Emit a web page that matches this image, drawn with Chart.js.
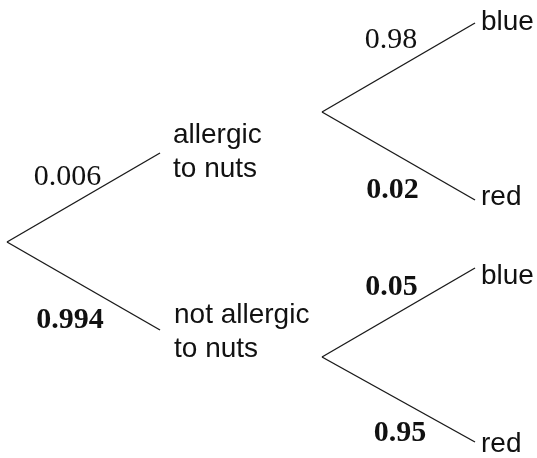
<!DOCTYPE html>
<html>
<head>
<meta charset="utf-8">
<script src="https://cdn.jsdelivr.net/npm/chart.js@4"></script>
<style>
  html, body { margin: 0; padding: 0; background: #fff; }
  canvas { display: block; }
</style>
</head>
<body>
<canvas id="tree" width="537" height="458"></canvas>
<script>
// tree branches, in plot units (x across, y down)
const branchStartX = [7, 7, 322, 322, 322, 322];
const branchStartY = [242, 242, 112, 112, 357, 357];
const branchEndX = [160, 160, 475, 475, 475, 475];
const branchEndY = [153, 330, 23, 200, 268, 442];

// what's written on each branch and at the end of it
const branchProbs = ['0.006', '0.994', '0.98', '0.02', '0.05', '0.95'];
const probIsBold = [false, true, false, true, true, true];
const outcomes = [['allergic', 'to nuts'], ['not allergic', 'to nuts'], ['blue'], ['red'], ['blue'], ['red']];

// where the labels sit (layout only)
const probPos = [[67.5, 185], [70, 328], [391, 48], [392.5, 198], [391.5, 295], [400, 441]];
const outcomePos = [[173, 143], [174, 323], [481, 30], [481, 205], [481, 284], [481, 452]];
const lineGap = 34;

const datasets = branchProbs.map((p, i) => ({
  label: p,
  data: [
    { x: branchStartX[i], y: branchStartY[i] },
    { x: branchEndX[i], y: branchEndY[i] }
  ],
  showLine: true,
  borderColor: '#1a1a1a',
  borderWidth: 1.4,
  pointRadius: 0,
  fill: false
}));

const treeLabels = {
  id: 'treeLabels',
  afterDatasetsDraw(chart) {
    const ctx = chart.ctx;
    const xs = chart.scales.x, ys = chart.scales.y;
    ctx.save();
    ctx.fillStyle = '#111';
    ctx.textBaseline = 'alphabetic';

    // probabilities
    ctx.textAlign = 'center';
    branchProbs.forEach((p, i) => {
      ctx.font = (probIsBold[i] ? 'bold ' : '') + '30px "Liberation Serif", "Times New Roman", serif';
      ctx.fillText(p, xs.getPixelForValue(probPos[i][0]), ys.getPixelForValue(probPos[i][1]));
    });

    // outcomes
    ctx.textAlign = 'left';
    ctx.font = '28px "Liberation Sans", Arial, sans-serif';
    outcomes.forEach((lines, i) => {
      lines.forEach((t, k) => {
        ctx.fillText(t, xs.getPixelForValue(outcomePos[i][0]), ys.getPixelForValue(outcomePos[i][1] + k * lineGap));
      });
    });
    ctx.restore();
  }
};

new Chart(document.getElementById('tree').getContext('2d'), {
  type: 'scatter',
  data: { datasets: datasets },
  options: {
    responsive: false,
    animation: false,
    layout: { padding: 0 },
    plugins: { legend: { display: false }, tooltip: { enabled: false } },
    scales: {
      x: { type: 'linear', min: 0, max: 537, display: false },
      y: { type: 'linear', min: 0, max: 458, reverse: true, display: false }
    }
  },
  plugins: [treeLabels]
});
</script>
</body>
</html>
